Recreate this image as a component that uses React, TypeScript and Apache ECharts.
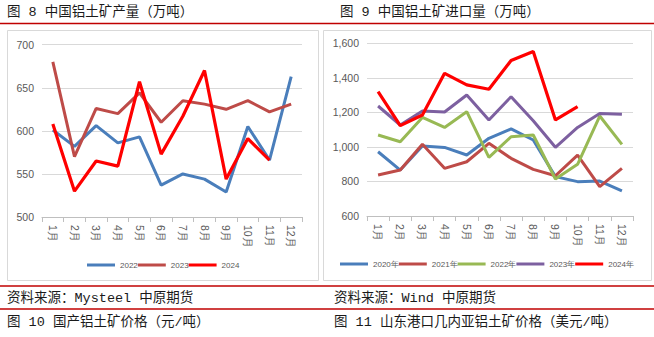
import React, { useEffect, useRef } from "react";
import * as echarts from "echarts";

const months = ["1月", "2月", "3月", "4月", "5月", "6月", "7月", "8月", "9月", "10月", "11月", "12月"];

const prodNames = ["2022", "2023", "2024"];
const prod2022 = [601, 582, 606, 586, 593, 537, 550, 544, 529, 605, 566, 663];
const prod2023 = [680, 570, 626, 620, 644, 610, 635, 631, 625, 635, 622, 631];
const prod2024 = [608, 530, 565, 559, 657, 573, 617, 670, 544, 591, 566];

const impNames = ["2020年", "2021年", "2022年", "2023年", "2024年"];
const imp2020 = [972, 866, 1005, 997, 953, 1050, 1104, 1040, 828, 799, 802, 746];
const imp2021 = [837, 866, 1015, 876, 914, 1021, 934, 870, 833, 953, 770, 876];
const imp2022 = [1069, 1030, 1171, 1113, 1204, 940, 1059, 1069, 814, 899, 1179, 1015];
const imp2023 = [1237, 1127, 1208, 1202, 1301, 1156, 1291, 1152, 998, 1113, 1194, 1189];
const imp2024 = [1320, 1123, 1185, 1426, 1359, 1334, 1500, 1552, 1156, 1233];

const titles = {
  t8: "图 8 中国铝土矿产量（万吨）",
  t9: "图 9 中国铝土矿进口量（万吨）",
  s8: "资料来源：Mysteel 中原期货",
  s9: "资料来源：Wind 中原期货",
  t10: "图 10 国产铝土矿价格（元/吨）",
  t11: "图 11 山东港口几内亚铝土矿价格（美元/吨）",
};

const BLUE = "#4a7ebb";
const BROWN = "#be4b48";
const RED = "#ff0000";
const GREEN = "#98b954";
const PURPLE = "#7d60a0";

const labelColor = "#595959";
const font = "'Liberation Sans', Arial, sans-serif";
const cjk = "'Liberation Mono', 'Noto Sans CJK SC', sans-serif";

function lineSeries(name: string, data: number[], color: string, xi: number, w = 3) {
  return {
    type: "line",
    name,
    data,
    xAxisIndex: xi,
    yAxisIndex: xi,
    symbol: "none",
    lineStyle: { color, width: w },
    itemStyle: { color },
  };
}

function xAxisCfg(gi: number) {
  return {
    type: "category",
    gridIndex: gi,
    data: months,
    boundaryGap: true,
    axisLine: { lineStyle: { color: "#bfbfbf", width: 1 } },
    axisTick: { show: true, length: 5, lineStyle: { color: "#bfbfbf" } },
    axisLabel: { rotate: -90, color: labelColor, fontSize: 10.5, fontFamily: font, margin: 8 },
  };
}

function yAxisCfg(gi: number, min: number, max: number, interval: number, fmt: (v: number) => string) {
  return {
    type: "value",
    gridIndex: gi,
    min,
    max,
    interval,
    axisLine: { show: false },
    axisTick: { show: false },
    splitLine: { lineStyle: { color: "#d9d9d9", width: 1 } },
    axisLabel: { color: labelColor, fontSize: 10.5, fontFamily: font, margin: 8, formatter: fmt },
  };
}

function legendCfg(data: string[], left: number, top: number) {
  return {
    data,
    left,
    top,
    width: 320,
    padding: 0,
    itemWidth: 28,
    itemHeight: 3,
    itemGap: 0,
    icon: "rect",
    textStyle: { color: labelColor, fontSize: 8, fontFamily: font },
  };
}

export default function App() {
  const ref = useRef<HTMLDivElement>(null);
  useEffect(() => {
    if (!ref.current) return;
    const chart = echarts.init(ref.current, undefined, { renderer: "svg" });
    const textStyle = (x: number, y: number, text: string) => ({
      type: "text",
      x,
      y,
      style: { text, fill: "#1a1a1a", fontSize: 13.5, fontFamily: cjk, verticalAlign: "middle", align: "left" },
    });
    const redLine = (y: number) => ({
      type: "line",
      shape: { x1: 0, y1: y, x2: 654, y2: y },
      style: { stroke: "#c00000", lineWidth: 1.5 },
    });
    chart.setOption({
      animation: false,
      grid: [
        { left: 42, right: 352, top: 44.7, bottom: 120 },
        { left: 367, right: 21, top: 43.3, bottom: 121 },
      ],
      xAxis: [xAxisCfg(0), xAxisCfg(1)],
      yAxis: [
        yAxisCfg(0, 500, 700, 50, (v: number) => String(v)),
        yAxisCfg(1, 600, 1600, 200, (v: number) => v.toLocaleString("en-US")),
      ],
      legend: [legendCfg(prodNames, 87, 261), legendCfg(impNames, 340, 260)],
      series: [
        lineSeries(prodNames[0], prod2022, BLUE, 0),
        lineSeries(prodNames[1], prod2023, BROWN, 0),
        lineSeries(prodNames[2], prod2024, RED, 0, 3.2),
        lineSeries(impNames[0], imp2020, BLUE, 1),
        lineSeries(impNames[1], imp2021, BROWN, 1),
        lineSeries(impNames[2], imp2022, GREEN, 1),
        lineSeries(impNames[3], imp2023, PURPLE, 1),
        lineSeries(impNames[4], imp2024, RED, 1, 3.2),
      ],
      graphic: [
        {
          type: "rect",
          z: -1,
          shape: { x: 7.5, y: 30.5, width: 311, height: 250 },
          style: { fill: "none", stroke: "#d9d9d9", lineWidth: 1 },
        },
        {
          type: "rect",
          z: -1,
          shape: { x: 323.5, y: 30.5, width: 328, height: 250 },
          style: { fill: "none", stroke: "#d9d9d9", lineWidth: 1 },
        },
        redLine(23.5),
        redLine(286),
        redLine(309),
        textStyle(7, 12, titles.t8),
        textStyle(340, 12, titles.t9),
        textStyle(7, 298, titles.s8),
        textStyle(334, 298, titles.s9),
        textStyle(7, 322, titles.t10),
        textStyle(334, 322, titles.t11),
      ],
    });
    return () => chart.dispose();
  }, []);
  return <div ref={ref} style={{ position: "fixed", left: 0, top: 0, width: 654, height: 337, background: "#fff" }} />;
}
